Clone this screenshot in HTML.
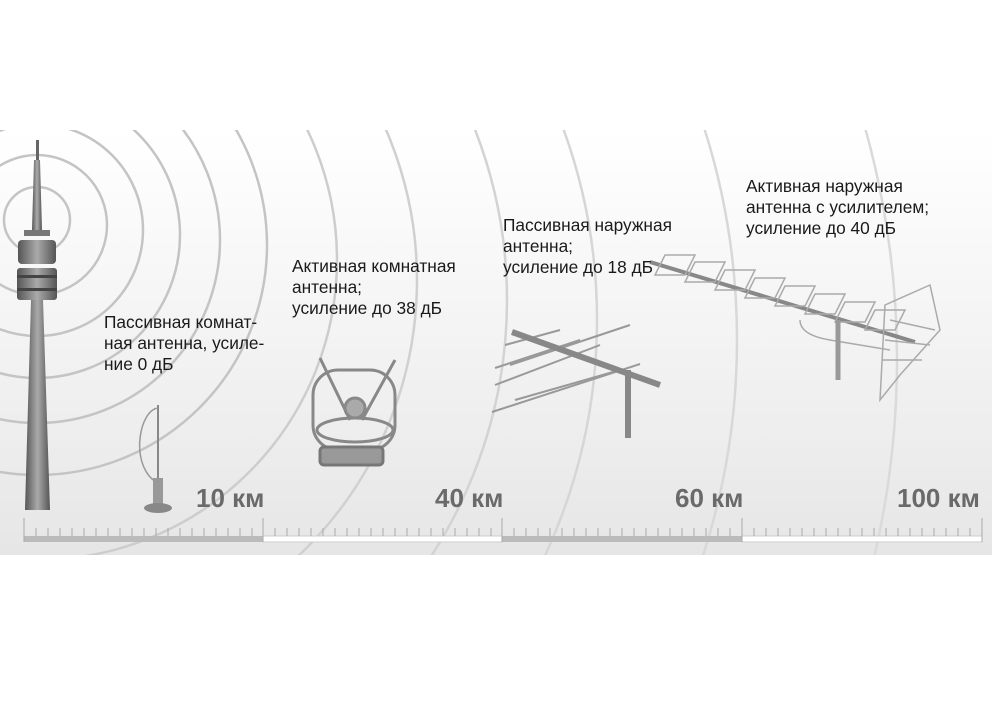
<!DOCTYPE html>
<html><head><meta charset="utf-8"><style>
html,body{margin:0;padding:0;background:#fff;width:1000px;height:702px;overflow:hidden;}
#w{position:relative;width:1000px;height:702px;overflow:hidden;font-family:"Liberation Sans",sans-serif;}
.t{position:absolute;font-size:17.3px;line-height:21px;color:#1a1a1a;white-space:nowrap;}
.km{position:absolute;font-size:26px;font-weight:bold;color:#6a6a6a;top:483px;}
</style></head><body><div id="w">
<svg width="1000" height="702" style="position:absolute;left:0;top:0">
<defs>
<linearGradient id="bg" x1="0" y1="0" x2="0" y2="1">
<stop offset="0" stop-color="#ffffff"/><stop offset="0.5" stop-color="#f3f3f3"/><stop offset="1" stop-color="#e6e6e6"/></linearGradient>
<clipPath id="c"><rect x="0" y="130" width="992" height="425"/></clipPath>
<linearGradient id="tw" x1="0" x2="1"><stop offset="0" stop-color="#555"/><stop offset="0.5" stop-color="#aaa"/><stop offset="1" stop-color="#555"/></linearGradient>
</defs>
<rect x="0" y="130" width="992" height="425" fill="url(#bg)"/>
<g clip-path="url(#c)" fill="none" stroke="#c4c4c4" stroke-width="2.5">
<circle cx="37" cy="220" r="33"/><circle cx="37" cy="225" r="70"/><circle cx="37" cy="230" r="106"/>
<circle cx="37" cy="235" r="143"/><circle cx="37" cy="240" r="183"/><circle cx="37" cy="245" r="230"/>
<circle cx="37" cy="260" r="300" stroke="#cdcdcd"/><circle cx="37" cy="280" r="380" stroke="#d0d0d0"/><circle cx="37" cy="300" r="470" stroke="#d3d3d3"/>
<circle cx="37" cy="320" r="560" stroke="#d6d6d6"/><circle cx="37" cy="340" r="700" stroke="#d8d8d8"/><circle cx="37" cy="360" r="860" stroke="#dadada"/>
</g>
<g>
<rect x="36" y="140" width="3" height="20" fill="#666"/>
<polygon points="34,160 40,160 42,230 32,230" fill="url(#tw)"/>
<rect x="24" y="230" width="26" height="6" fill="#777"/>
<rect x="18" y="240" width="38" height="24" rx="4" fill="url(#tw)"/>
<rect x="17" y="268" width="40" height="32" rx="3" fill="url(#tw)"/>
<rect x="17" y="275" width="40" height="3" fill="#444"/><rect x="17" y="288" width="40" height="3" fill="#444"/>
<polygon points="31,300 43,300 50,510 25,510" fill="url(#tw)"/>
</g>
<g>
<line x1="158" y1="405" x2="158" y2="485" stroke="#888" stroke-width="2"/>
<path d="M153,480 C130,460 140,410 158,408" stroke="#999" fill="none" stroke-width="1.5"/>
<rect x="153" y="478" width="10" height="28" fill="#999"/>
<ellipse cx="158" cy="508" rx="14" ry="5" fill="#888"/>
</g>
<g fill="none" stroke="#888" stroke-width="3">
<rect x="313" y="370" width="82" height="80" rx="25"/>
<ellipse cx="355" cy="430" rx="38" ry="12"/>
<line x1="320" y1="358" x2="350" y2="420"/><line x1="395" y1="360" x2="362" y2="420"/>
<circle cx="355" cy="408" r="10" fill="#aaa"/>
<rect x="320" y="447" width="63" height="18" rx="4" fill="#999" stroke="#777"/>
</g>
<g stroke="#999" stroke-width="2">
<line x1="492" y1="412" x2="640" y2="364"/><line x1="495" y1="385" x2="600" y2="345"/><line x1="495" y1="368" x2="580" y2="340"/>
<line x1="505" y1="345" x2="560" y2="330"/><line x1="510" y1="365" x2="630" y2="325"/><line x1="515" y1="400" x2="620" y2="370"/>
<line x1="512" y1="332" x2="660" y2="385" stroke="#888" stroke-width="6"/>
<line x1="628" y1="370" x2="628" y2="438" stroke="#888" stroke-width="6"/>
</g>
<g stroke="#aaa" stroke-width="1.5" fill="none">
<line x1="650" y1="262" x2="915" y2="342" stroke="#888" stroke-width="4"/>
<path d="M665,255 h30 l-10,20 h-30z M695,262 h30 l-10,20 h-30z M725,270 h30 l-10,20 h-30z M755,278 h30 l-10,20 h-30z M785,286 h30 l-10,20 h-30z M815,294 h30 l-10,20 h-30z M845,302 h30 l-10,20 h-30z M875,310 h30 l-10,20 h-30z"/>
<path d="M800,320 q0,15 30,20 l60,10"/>
<line x1="838" y1="320" x2="838" y2="380" stroke="#999" stroke-width="5"/>
<path d="M885,305 l45,-20 l10,45 l-40,45 l-20,25z M890,320 l45,10 M885,340 l45,5 M882,360 l40,0"/>
</g>
<rect x="24" y="536" width="239" height="6" fill="#bbb"/><rect x="263" y="536" width="239" height="6" fill="#fff" stroke="#ccc"/>
<rect x="502" y="536" width="240" height="6" fill="#bbb"/><rect x="742" y="536" width="240" height="6" fill="#fff" stroke="#ccc"/>
<g stroke="#aaa" stroke-width="1">
<line x1="24" y1="518" x2="24" y2="542"/><line x1="263" y1="518" x2="263" y2="542"/><line x1="502" y1="518" x2="502" y2="542"/><line x1="742" y1="518" x2="742" y2="542"/><line x1="982" y1="518" x2="982" y2="542"/>
<path d="M36,528v8M48,528v8M60,528v8M72,528v8M84,528v8M96,528v8M108,528v8M120,528v8M132,528v8M144,528v8M156,528v8M168,528v8M180,528v8M192,528v8M204,528v8M216,528v8M228,528v8M240,528v8M252,528v8"/>
<path transform="translate(239,0)" d="M36,528v8M48,528v8M60,528v8M72,528v8M84,528v8M96,528v8M108,528v8M120,528v8M132,528v8M144,528v8M156,528v8M168,528v8M180,528v8M192,528v8M204,528v8M216,528v8M228,528v8M240,528v8M252,528v8"/>
<path transform="translate(478,0)" d="M36,528v8M48,528v8M60,528v8M72,528v8M84,528v8M96,528v8M108,528v8M120,528v8M132,528v8M144,528v8M156,528v8M168,528v8M180,528v8M192,528v8M204,528v8M216,528v8M228,528v8M240,528v8M252,528v8"/>
<path transform="translate(718,0)" d="M36,528v8M48,528v8M60,528v8M72,528v8M84,528v8M96,528v8M108,528v8M120,528v8M132,528v8M144,528v8M156,528v8M168,528v8M180,528v8M192,528v8M204,528v8M216,528v8M228,528v8M240,528v8M252,528v8"/>
</g>
</svg>
<div class="t" style="left:104px;top:312px">Пассивная комнат-<br>ная антенна, усиле-<br>ние 0 дБ</div>
<div class="t" style="left:292px;top:256px">Активная комнатная<br>антенна;<br>усиление до 38 дБ</div>
<div class="t" style="left:503px;top:215px">Пассивная наружная<br>антенна;<br>усиление до 18 дБ</div>
<div class="t" style="left:746px;top:176px">Активная наружная<br>антенна с усилителем;<br>усиление до 40 дБ</div>
<div class="km" style="left:196px">10 км</div>
<div class="km" style="left:435px">40 км</div>
<div class="km" style="left:675px">60 км</div>
<div class="km" style="left:897px">100 км</div>
</div></body></html>
